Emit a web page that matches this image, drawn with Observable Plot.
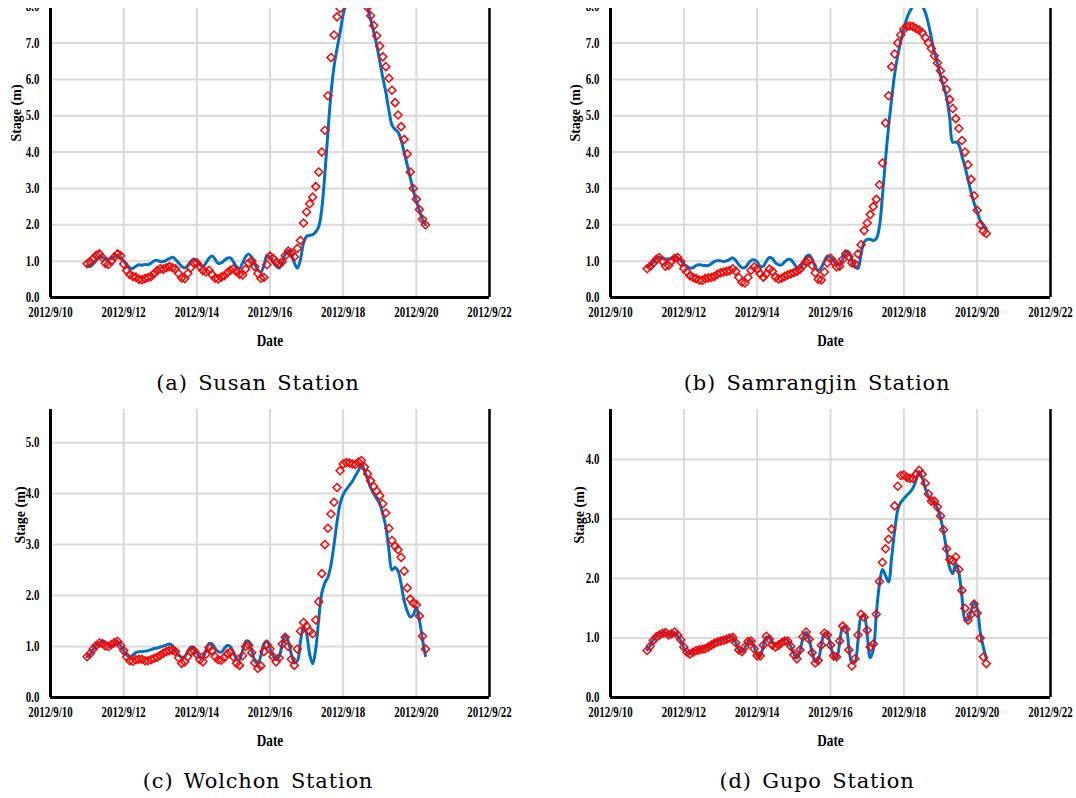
<!DOCTYPE html>
<html><head><meta charset="utf-8">
<script src="https://cdn.jsdelivr.net/npm/d3@7"></script>
<script src="https://cdn.jsdelivr.net/npm/@observablehq/plot@0.6"></script>
<style>
html,body{margin:0;padding:0;background:#fff}
body{width:1076px;height:798px;position:relative;overflow:hidden;font-family:"Liberation Serif",serif}
.clip{position:absolute;overflow:hidden}
.cap{position:absolute;width:500px;text-align:center;font-family:"DejaVu Serif",serif;font-size:21px;letter-spacing:0.8px;word-spacing:3px;line-height:24px;color:#000}
.ylab{position:absolute;font:bold 14px "Liberation Serif",serif;white-space:nowrap;transform:translate(-50%,-50%) rotate(-90deg);color:#000}
</style></head><body>
<script>
// time index: every 2 hours from 2012/9/11 00:00
const startUTC = Date.UTC(2012, 8, 11, 0);
const stepHours = 2;

// (a) Susan
const susanObs = [
0.93,0.98,1.07,1.16,1.20,1.10,0.94,0.91,1.00,1.12,1.20,1.15,
0.92,0.74,0.63,0.58,0.56,0.50,0.49,0.52,0.55,0.58,0.66,0.74,
0.79,0.78,0.82,0.85,0.82,0.79,0.66,0.54,0.52,0.66,0.82,0.95,
0.95,0.85,0.74,0.70,0.75,0.63,0.53,0.51,0.56,0.60,0.68,0.75,
0.79,0.72,0.64,0.62,0.78,0.95,1.01,0.85,0.66,0.53,0.55,0.90,
1.14,1.08,0.97,0.93,0.98,1.15,1.28,1.22,1.12,1.35,1.57,2.05,
2.35,2.58,2.76,3.05,3.45,4.00,4.60,5.55,6.60,7.22,7.72,7.95,
8.15,8.28,8.33,8.35,8.32,8.28,8.20,8.08,7.98,7.75,7.48,7.20,
6.92,6.62,6.35,6.03,5.70,5.36,5.02,4.70,4.35,3.95,3.45,3.00,
2.70,2.42,2.15,2.00];
const susanSim = [
0.88,0.85,0.92,1.02,1.10,1.10,1.06,1.06,1.08,1.12,1.15,1.10,
1.00,0.90,0.82,0.80,0.86,0.90,0.89,0.91,0.90,0.95,1.01,1.02,
0.99,0.99,1.03,1.07,1.11,1.05,0.95,0.86,0.81,0.88,0.99,1.06,
1.02,0.90,0.85,0.95,1.08,1.14,1.05,0.94,0.95,1.02,1.08,1.09,
0.98,0.85,0.80,0.95,1.12,1.20,1.10,0.92,0.76,0.70,0.88,1.15,
1.12,0.98,0.86,0.81,0.95,1.18,1.29,1.18,0.95,0.81,1.05,1.50,
1.68,1.71,1.73,1.80,1.95,2.45,3.40,4.55,5.60,6.35,6.85,7.30,
7.78,8.10,8.40,8.55,8.60,8.58,8.48,8.28,8.00,7.65,7.32,6.95,
6.50,6.05,5.65,5.15,4.75,4.63,4.55,4.33,4.00,3.65,3.30,2.95,
2.65,2.40,2.15,2.00];

// (b) Samrangjin
const samrangjinObs = [
0.79,0.86,0.95,1.05,1.10,1.00,0.86,0.88,1.00,1.08,1.10,0.98,
0.80,0.70,0.60,0.55,0.52,0.48,0.47,0.52,0.54,0.55,0.58,0.64,
0.68,0.70,0.72,0.74,0.79,0.72,0.55,0.42,0.40,0.55,0.75,0.84,
0.78,0.65,0.56,0.65,0.78,0.72,0.56,0.51,0.53,0.58,0.62,0.65,
0.68,0.72,0.78,0.88,0.98,1.02,0.88,0.68,0.50,0.48,0.70,0.95,
1.08,0.98,0.84,0.86,1.05,1.20,1.12,0.95,0.92,1.20,1.45,1.84,
2.05,2.28,2.50,2.70,3.10,3.70,4.80,5.55,6.35,6.70,7.00,7.22,
7.38,7.46,7.47,7.45,7.40,7.36,7.28,7.15,7.00,6.85,6.65,6.45,
6.24,5.98,5.72,5.45,5.20,4.92,4.65,4.32,4.00,3.65,3.25,2.80,
2.40,2.00,1.82,1.76];
const samrangjinSim = [
0.85,0.90,0.98,1.08,1.11,1.08,1.06,1.06,1.08,1.11,1.10,1.02,
0.92,0.86,0.81,0.82,0.88,0.90,0.89,0.88,0.88,0.93,0.99,1.02,
1.01,0.99,1.01,1.05,1.09,1.02,0.90,0.82,0.82,0.92,1.02,1.04,
0.98,0.86,0.86,1.00,1.10,1.07,0.95,0.90,0.90,0.98,1.05,1.04,
0.94,0.82,0.80,0.95,1.12,1.17,1.05,0.85,0.74,0.82,1.00,1.14,
1.10,1.00,0.92,0.90,1.05,1.25,1.25,1.05,0.85,0.80,1.20,1.52,
1.60,1.60,1.57,1.62,1.95,2.80,3.80,4.70,5.45,6.15,6.65,7.05,
7.40,7.68,7.88,8.02,8.10,8.10,8.02,7.85,7.55,7.15,6.75,6.45,
6.10,5.80,5.50,4.95,4.27,4.28,4.20,3.90,3.60,3.25,2.90,2.60,
2.35,2.12,2.00,1.90];

// (c) Wolchon
const wolchonObs = [
0.80,0.86,0.95,1.02,1.07,1.06,1.01,1.00,1.04,1.08,1.10,1.02,
0.92,0.80,0.72,0.71,0.74,0.75,0.75,0.72,0.72,0.74,0.77,0.79,
0.83,0.87,0.90,0.92,0.93,0.90,0.78,0.67,0.70,0.80,0.90,0.92,
0.85,0.74,0.70,0.85,0.98,0.92,0.80,0.74,0.73,0.78,0.86,0.89,
0.80,0.67,0.63,0.82,1.00,1.03,0.88,0.68,0.57,0.62,0.90,1.04,
0.95,0.80,0.70,0.78,1.05,1.18,1.00,0.75,0.63,0.95,1.30,1.47,
1.40,1.30,1.25,1.52,1.88,2.43,3.00,3.32,3.60,3.83,4.12,4.45,
4.58,4.61,4.60,4.58,4.57,4.62,4.65,4.52,4.39,4.25,4.14,4.05,
3.96,3.80,3.62,3.32,3.08,2.97,2.90,2.75,2.48,2.15,1.93,1.85,
1.82,1.60,1.20,0.95];
const wolchonSim = [
0.80,0.85,0.95,1.03,1.06,1.10,1.09,1.02,1.00,1.07,1.10,1.02,
0.92,0.83,0.79,0.83,0.88,0.90,0.90,0.91,0.92,0.94,0.96,0.97,
0.99,1.01,1.03,1.05,1.02,0.92,0.83,0.79,0.80,0.90,0.99,0.98,
0.88,0.78,0.78,0.92,1.06,1.05,0.96,0.90,0.89,0.96,1.02,1.00,
0.88,0.76,0.74,0.92,1.10,1.10,0.92,0.72,0.66,0.82,1.05,1.11,
0.96,0.82,0.74,0.80,1.05,1.21,1.10,0.85,0.68,0.72,1.10,1.40,
1.25,0.85,0.66,0.95,1.55,2.05,2.25,2.36,2.60,3.00,3.45,3.80,
3.98,4.08,4.16,4.24,4.35,4.45,4.58,4.45,4.29,4.12,4.00,3.90,
3.80,3.60,3.35,2.90,2.50,2.55,2.48,2.23,1.90,1.70,1.58,1.62,
1.77,1.52,1.15,0.82];

// (d) Gupo
const gupoObs = [
0.79,0.86,0.96,1.02,1.05,1.08,1.09,1.05,1.07,1.10,1.05,0.97,
0.85,0.76,0.73,0.76,0.79,0.80,0.81,0.82,0.85,0.88,0.91,0.93,
0.95,0.96,0.98,1.00,1.01,0.92,0.80,0.77,0.85,0.94,0.95,0.82,
0.70,0.70,0.88,1.03,0.98,0.88,0.85,0.88,0.92,0.95,0.95,0.86,
0.72,0.65,0.80,1.02,1.10,0.98,0.75,0.58,0.62,0.88,1.08,1.05,
0.88,0.70,0.68,0.95,1.20,1.15,0.80,0.53,0.65,1.05,1.40,1.35,
1.13,0.85,0.90,1.40,1.95,2.27,2.50,2.66,2.83,3.22,3.55,3.73,
3.74,3.70,3.68,3.68,3.75,3.82,3.75,3.60,3.42,3.30,3.30,3.20,
3.05,2.82,2.50,2.32,2.30,2.36,2.15,1.80,1.50,1.30,1.40,1.57,
1.42,1.00,0.68,0.57];
const gupoSim = [
0.80,0.87,0.97,1.03,1.06,1.09,1.08,1.04,1.07,1.09,1.04,0.95,
0.84,0.76,0.74,0.77,0.80,0.81,0.82,0.84,0.87,0.90,0.93,0.95,
0.97,0.98,1.00,1.02,1.02,0.92,0.80,0.76,0.84,0.93,0.96,0.85,
0.72,0.70,0.86,1.02,1.00,0.92,0.90,0.92,0.95,0.98,0.96,0.86,
0.74,0.66,0.78,1.00,1.10,0.98,0.76,0.60,0.64,0.88,1.08,1.06,
0.88,0.70,0.66,0.92,1.18,1.18,0.85,0.58,0.60,0.95,1.35,1.38,
1.05,0.67,0.80,1.40,1.90,2.15,2.05,1.94,2.35,2.80,3.15,3.28,
3.34,3.40,3.45,3.52,3.65,3.80,3.70,3.52,3.38,3.30,3.28,3.18,
3.02,2.78,2.48,2.18,2.08,2.25,2.10,1.70,1.32,1.30,1.45,1.60,
1.50,1.10,0.85,0.66];

const yTicksTop = [0,1,2,3,4,5,6,7,8];
const yTicksWolchon = [0,1,2,3,4,5];
const yTicksGupo = [0,1,2,3,4];
const dateTickLabels = ["2012/9/10","2012/9/12","2012/9/14","2012/9/16","2012/9/18","2012/9/20","2012/9/22"];
const captions = ["(a) Susan Station","(b) Samrangjin Station","(c) Wolchon Station","(d) Gupo Station"];
const yTitle = "Stage (m)";
const xTitle = "Date";

const parseTick = s => { const [y,m,d] = s.split("/").map(Number); return new Date(Date.UTC(y, m-1, d)); };
const dateTicks = dateTickLabels.map(parseTick);
const xDomain = [dateTicks[0], dateTicks[dateTicks.length-1]];
const fmt = d => `${d.getUTCFullYear()}/${d.getUTCMonth()+1}/${d.getUTCDate()}`;

function rowsOf(obs, sim){
  return obs.map((v,i)=>({date:new Date(startUTC + i*stepHours*3600e3), obs:v, sim:sim[i]}));
}

function panel({obs, sim, yMax, yTicks, width, height, mt, mb, ml, mr}){
  const rows = rowsOf(obs, sim);
  const svg = Plot.plot({
    width, height, marginTop: mt, marginBottom: mb, marginLeft: ml, marginRight: mr,
    style: {fontFamily: '"Liberation Serif", serif', fontSize: "14px", fontWeight: "bold", color: "#000", background: "transparent", overflow: "visible"},
    x: {type: "utc", domain: xDomain},
    y: {domain: [0, yMax]},
    marks: [
      Plot.gridY(yTicks, {stroke: "#d9d9d9", strokeOpacity: 1, strokeWidth: 2}),
      Plot.gridX(dateTicks, {stroke: "#d9d9d9", strokeOpacity: 1, strokeWidth: 2}),
      Plot.line(rows, {x: "date", y: "sim", stroke: "#0070C0", strokeWidth: 3, curve: "catmull-rom", clip: true}),
      Plot.dot(rows, {x: "date", y: "obs", symbol: "diamond2", r: 3.6, stroke: "#FF0000", strokeWidth: 1.5, fill: "none", clip: true}),
      Plot.ruleX([xDomain[0]], {stroke: "#000", strokeWidth: 3}),
      Plot.ruleX([xDomain[1]], {stroke: "#000", strokeWidth: 2.5}),
      Plot.ruleY([0], {stroke: "#000", strokeWidth: 3}),
      Plot.axisY(yTicks, {tickSize: 0, tickPadding: 11, tickFormat: d3.format(".1f"), label: null}),
      Plot.axisX(dateTicks, {tickSize: 0, tickPadding: 10, tickFormat: fmt, label: null}),
      Plot.text([xTitle], {frameAnchor: "bottom", dy: 48, fontSize: 17, fontWeight: "bold"})
    ]
  });
  // narrow the bold serif labels like the original
  svg.querySelectorAll('g[aria-label="x-axis tick label"] text, g[aria-label="y-axis tick label"] text, g[aria-label="text"] text').forEach(el => {
    const t = el.getAttribute("transform") || "";
    el.setAttribute("transform", (t + " scale(0.78,1)").trim());
  });
  return svg;
}

// top panels: y(0) at page 297, 36.4 px per unit, clipped at page y=8
function topPanel(obs, sim, left, plotW, clipW){
  const clip = document.createElement("div");
  clip.className = "clip";
  clip.style.left = left + "px"; clip.style.top = "8px";
  clip.style.width = clipW + "px"; clip.style.height = "360px";
  const svg = panel({obs, sim, yMax: 8.5, yTicks: yTicksTop, width: plotW + 60, height: 384, mt: 20, mb: 55, ml: 50, mr: 10});
  svg.style.position = "absolute"; svg.style.left = "0px"; svg.style.top = "-40px";
  clip.appendChild(svg);
  document.body.appendChild(clip);
}
function bottomPanel(obs, sim, left, plotW, yMax, yTicks){
  const svg = panel({obs, sim, yMax, yTicks, width: plotW + 60, height: 353, mt: 10, mb: 55, ml: 50, mr: 10});
  svg.style.position = "absolute"; svg.style.left = left + "px"; svg.style.top = "399px";
  document.body.appendChild(svg);
}

topPanel(susanObs, susanSim, 0, 439, 545);
topPanel(samrangjinObs, samrangjinSim, 560, 440, 516);
bottomPanel(wolchonObs, wolchonSim, 0, 439, 5.65, yTicksWolchon);
bottomPanel(gupoObs, gupoSim, 560, 440, 4.84, yTicksGupo);

function ylab(cx, cy){
  const d = document.createElement("div");
  d.className = "ylab"; d.textContent = yTitle;
  d.style.left = cx + "px"; d.style.top = cy + "px";
  document.body.appendChild(d);
}
ylab(17, 113); ylab(576, 113); ylab(21, 515); ylab(580, 515);

function cap(text, cx, cy){
  const d = document.createElement("div");
  d.className = "cap"; d.textContent = text;
  d.style.left = (cx - 250) + "px"; d.style.top = (cy - 12) + "px";
  document.body.appendChild(d);
}
cap(captions[0], 258, 383); cap(captions[1], 817, 383);
cap(captions[2], 258, 781); cap(captions[3], 817, 781);
</script>
</body></html>
